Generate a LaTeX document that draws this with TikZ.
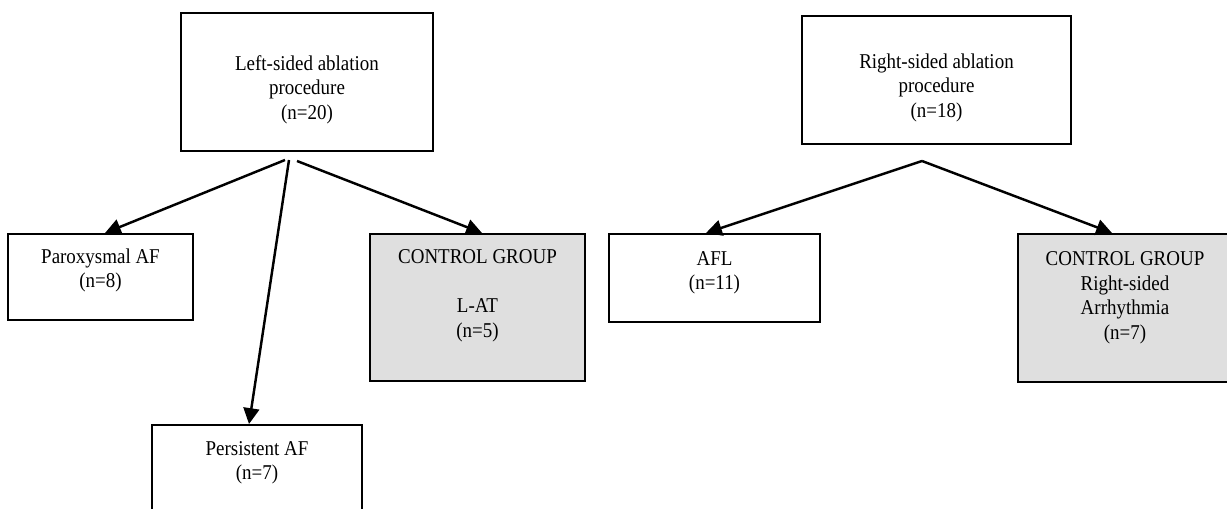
\documentclass[tikz,border=0pt]{standalone}
\usepackage{fontspec}
\setmainfont[FakeStretch=0.9]{Liberation Serif}
\usetikzlibrary{arrows.meta}

\begin{document}
\begin{tikzpicture}[
		x=0.02cm, y=-0.02cm
		,box/.style={draw, line width=1.1pt, align=center, inner sep=0pt, anchor=north, font=\fontsize{12}{14.2}\selectfont}
		,ctrl/.style={box, fill=gray!25}
		,arr/.style={-{Triangle[length=9pt, width=9pt]}, line width=1.4pt}
	]
		\useasboundingbox (0,0) rectangle (1227,509);

		\node[box, minimum width=5.04cm, text height=2.14cm, text depth=0.62cm] (left) at (307,12) {Left-sided ablation\\procedure\\(n=20)};
		\node[box, minimum width=5.38cm, text height=2.04cm, text depth=0.52cm] (right) at (936.5,15) {Right-sided ablation\\procedure\\(n=18)};

		\node[box, minimum width=3.7cm, text height=1.08cm, text depth=0.64cm] (parox) at (100.5,233) {Paroxysmal AF\\(n=8)};
		\node[box, minimum width=4.2cm, text height=1.1cm, text depth=0.9cm] (persist) at (257,424) {Persistent AF\\(n=7)};
		\node[ctrl, minimum width=4.3cm, text height=2.08cm, text depth=0.86cm] (lat) at (477.5,233) {CONTROL GROUP\\[14.2pt]L-AT\\(n=5)};
		\node[box, minimum width=4.22cm, text height=1.12cm, text depth=0.64cm] (afl) at (714.5,233) {AFL\\(n=11)};
		\node[ctrl, minimum width=4.28cm, text height=2.12cm, text depth=0.84cm] (rctrl) at (1125,233) {CONTROL GROUP\\Right-sided\\Arrhythmia\\(n=7)};

		% split points under the two top boxes
		\coordinate (lsa) at (285,160);
		\coordinate (lsb) at (289,160);
		\coordinate (lsc) at (297,161);
		\coordinate (rs) at (922,161);

		\draw[arr] (lsa) -- ([xshift=0.09cm]parox.north);
		\draw[arr] (lsb) -- ([xshift=-0.16cm]persist.north);
		\draw[arr] (lsc) -- ([xshift=0.09cm]lat.north);
		\draw[arr] (rs) -- ([xshift=-0.17cm]afl.north);
		\draw[arr] (rs) -- ([xshift=-0.26cm]rctrl.north);
	\end{tikzpicture}
\end{document}
